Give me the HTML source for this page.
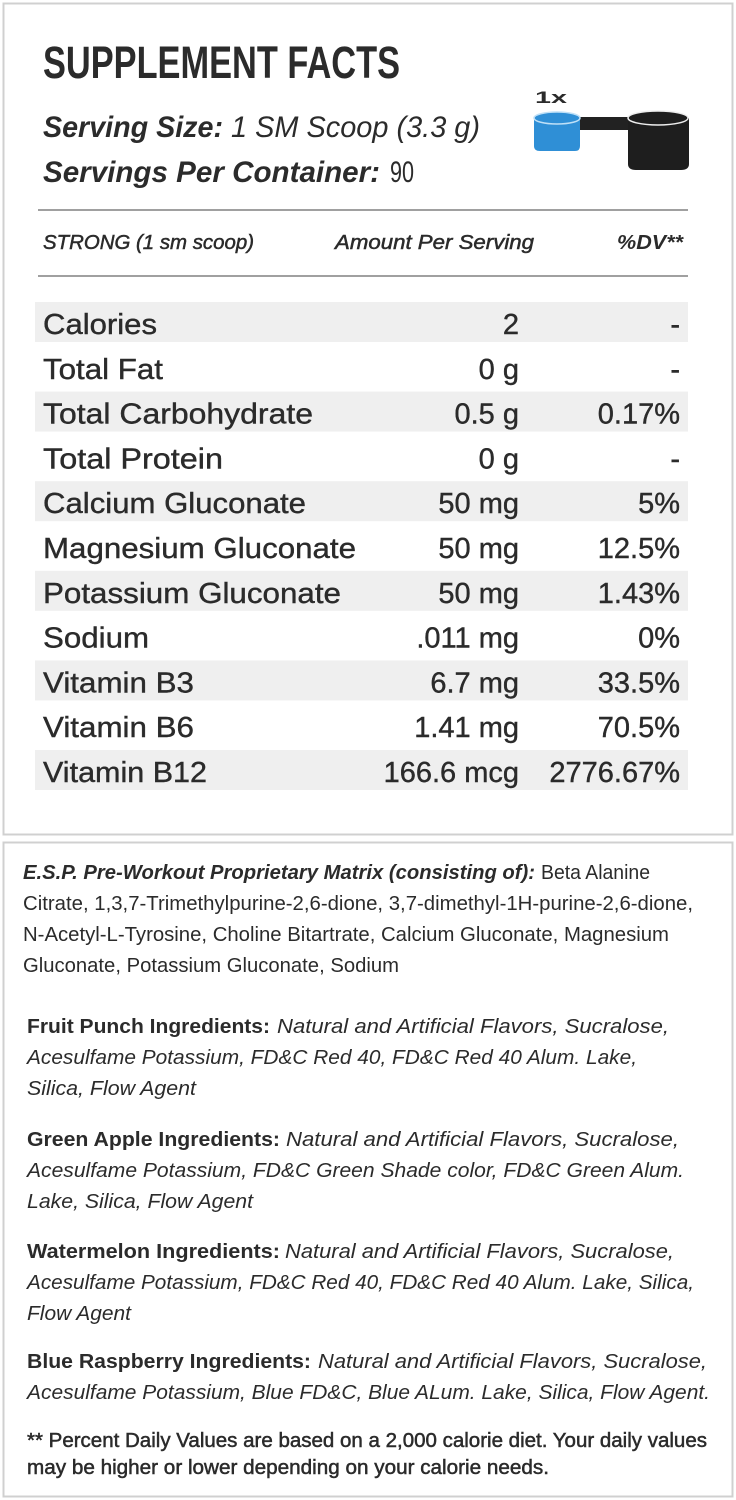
<!DOCTYPE html>
<html><head><meta charset="utf-8"><style>
html,body{margin:0;padding:0;background:#fff;}
svg{display:block;}
text{font-family:"Liberation Sans",sans-serif;fill:#2b2b2b;}
.b{font-weight:bold;}
.i{font-style:italic;}
.r{font-size:29px;stroke:#2b2b2b;stroke-width:0.4;}
.p{font-size:20px;}
.m{stroke:#2b2b2b;stroke-width:0.5;}
</style></head><body>
<svg width="736" height="1500" viewBox="0 0 736 1500" xmlns="http://www.w3.org/2000/svg">
<rect x="3.5" y="3.5" width="729" height="831" fill="#fff" stroke="#d0d0d0" stroke-width="2"/>
<rect x="3.5" y="842.5" width="729" height="654" fill="#fff" stroke="#d0d0d0" stroke-width="2"/>

<text x="43" y="78" class="b" font-size="45" textLength="357" lengthAdjust="spacingAndGlyphs">SUPPLEMENT FACTS</text>
<text x="43" y="137" class="b" font-size="30" textLength="180" lengthAdjust="spacingAndGlyphs" font-style="italic">Serving Size:</text>
<text x="231" y="137" class="i" font-size="30" textLength="249" lengthAdjust="spacingAndGlyphs">1 SM Scoop (3.3 g)</text>
<text x="43" y="182" class="b" font-size="30" textLength="337" lengthAdjust="spacingAndGlyphs" font-style="italic">Servings Per Container:</text>
<text x="390" y="182" font-size="30" textLength="24" lengthAdjust="spacingAndGlyphs">90</text>

<text x="535" y="103" class="b" font-size="17" textLength="32" lengthAdjust="spacingAndGlyphs">1x</text>
<rect x="578" y="117" width="54" height="13" fill="#222"/>
<path d="M534 118 L534 146 Q534 151 540 151 L575 151 Q580 151 580 146 L580 118 Z" fill="#2f8fd6"/>
<ellipse cx="557" cy="118" rx="23" ry="6" fill="#2f8fd6" stroke="#bfe0f7" stroke-width="1.5"/>
<path d="M628 118 L628 164 Q628 170 636 170 L681 170 Q689 170 689 164 L689 118 Z" fill="#1e1e1e"/>
<ellipse cx="658" cy="118" rx="30" ry="7" fill="#1e1e1e" stroke="#eee" stroke-width="1.5"/>

<rect x="38" y="209" width="650" height="2" fill="#a0a0a0"/>
<rect x="38" y="275" width="650" height="2" fill="#a0a0a0"/>
<text x="43" y="249" class="i m" font-size="20" textLength="211" lengthAdjust="spacingAndGlyphs">STRONG (1 sm scoop)</text>
<text x="335" y="249" class="i m" font-size="20" textLength="199" lengthAdjust="spacingAndGlyphs">Amount Per Serving</text>
<text x="617" y="249" class="b i" font-size="20" textLength="66" lengthAdjust="spacingAndGlyphs">%DV**</text>

<g fill="#efefef">
<rect x="35" y="302" width="653" height="40"/>
<rect x="35" y="391.6" width="653" height="40"/>
<rect x="35" y="481.2" width="653" height="40"/>
<rect x="35" y="570.8" width="653" height="40"/>
<rect x="35" y="660.4" width="653" height="40"/>
<rect x="35" y="750" width="653" height="40"/>
</g>
<g>
<text x="43" y="334" class="r" textLength="114" lengthAdjust="spacingAndGlyphs">Calories</text>
<text x="519" y="334" class="r" text-anchor="end">2</text>
<text x="680" y="334" class="r" text-anchor="end">-</text>

<text x="43" y="378.8" class="r" textLength="120" lengthAdjust="spacingAndGlyphs">Total Fat</text>
<text x="519" y="378.8" class="r" text-anchor="end">0 g</text>
<text x="680" y="378.8" class="r" text-anchor="end">-</text>

<text x="43" y="423.6" class="r" textLength="270" lengthAdjust="spacingAndGlyphs">Total Carbohydrate</text>
<text x="519" y="423.6" class="r" text-anchor="end">0.5 g</text>
<text x="680" y="423.6" class="r" text-anchor="end">0.17%</text>

<text x="43" y="468.4" class="r" textLength="180" lengthAdjust="spacingAndGlyphs">Total Protein</text>
<text x="519" y="468.4" class="r" text-anchor="end">0 g</text>
<text x="680" y="468.4" class="r" text-anchor="end">-</text>

<text x="43" y="513.2" class="r" textLength="263" lengthAdjust="spacingAndGlyphs">Calcium Gluconate</text>
<text x="519" y="513.2" class="r" text-anchor="end">50 mg</text>
<text x="680" y="513.2" class="r" text-anchor="end">5%</text>

<text x="43" y="558" class="r" textLength="313" lengthAdjust="spacingAndGlyphs">Magnesium Gluconate</text>
<text x="519" y="558" class="r" text-anchor="end">50 mg</text>
<text x="680" y="558" class="r" text-anchor="end">12.5%</text>

<text x="43" y="602.8" class="r" textLength="298" lengthAdjust="spacingAndGlyphs">Potassium Gluconate</text>
<text x="519" y="602.8" class="r" text-anchor="end">50 mg</text>
<text x="680" y="602.8" class="r" text-anchor="end">1.43%</text>

<text x="43" y="647.6" class="r" textLength="106" lengthAdjust="spacingAndGlyphs">Sodium</text>
<text x="519" y="647.6" class="r" text-anchor="end">.011 mg</text>
<text x="680" y="647.6" class="r" text-anchor="end">0%</text>

<text x="43" y="692.4" class="r" textLength="151" lengthAdjust="spacingAndGlyphs">Vitamin B3</text>
<text x="519" y="692.4" class="r" text-anchor="end">6.7 mg</text>
<text x="680" y="692.4" class="r" text-anchor="end">33.5%</text>

<text x="43" y="737.2" class="r" textLength="151" lengthAdjust="spacingAndGlyphs">Vitamin B6</text>
<text x="519" y="737.2" class="r" text-anchor="end">1.41 mg</text>
<text x="680" y="737.2" class="r" text-anchor="end">70.5%</text>

<text x="43" y="782" class="r" textLength="164" lengthAdjust="spacingAndGlyphs">Vitamin B12</text>
<text x="519" y="782" class="r" text-anchor="end">166.6 mcg</text>
<text x="680" y="782" class="r" text-anchor="end">2776.67%</text>
</g>

<text x="23" y="879" class="p i b" textLength="512" lengthAdjust="spacingAndGlyphs">E.S.P. Pre-Workout Proprietary Matrix (consisting of):</text>
<text x="541" y="879" class="p" textLength="109" lengthAdjust="spacingAndGlyphs">Beta Alanine</text>
<text x="23" y="910" class="p" textLength="670" lengthAdjust="spacingAndGlyphs">Citrate, 1,3,7-Trimethylpurine-2,6-dione, 3,7-dimethyl-1H-purine-2,6-dione,</text>
<text x="23" y="941" class="p" textLength="646" lengthAdjust="spacingAndGlyphs">N-Acetyl-L-Tyrosine, Choline Bitartrate, Calcium Gluconate, Magnesium</text>
<text x="23" y="972" class="p" textLength="376" lengthAdjust="spacingAndGlyphs">Gluconate, Potassium Gluconate, Sodium</text>

<text x="27" y="1033" class="p b" textLength="243" lengthAdjust="spacingAndGlyphs">Fruit Punch Ingredients:</text>
<text x="277" y="1033" class="p i" textLength="392" lengthAdjust="spacingAndGlyphs">Natural and Artificial Flavors, Sucralose,</text>
<text x="27" y="1064" class="p i" textLength="610" lengthAdjust="spacingAndGlyphs">Acesulfame Potassium, FD&amp;C Red 40, FD&amp;C Red 40 Alum. Lake,</text>
<text x="27" y="1095" class="p i" textLength="169" lengthAdjust="spacingAndGlyphs">Silica, Flow Agent</text>

<text x="27" y="1146" class="p b" textLength="253" lengthAdjust="spacingAndGlyphs">Green Apple Ingredients:</text>
<text x="286" y="1146" class="p i" textLength="393" lengthAdjust="spacingAndGlyphs">Natural and Artificial Flavors, Sucralose,</text>
<text x="27" y="1177" class="p i" textLength="657" lengthAdjust="spacingAndGlyphs">Acesulfame Potassium, FD&amp;C Green Shade color, FD&amp;C Green Alum.</text>
<text x="27" y="1208" class="p i" textLength="226" lengthAdjust="spacingAndGlyphs">Lake, Silica, Flow Agent</text>

<text x="27" y="1258" class="p b" textLength="253" lengthAdjust="spacingAndGlyphs">Watermelon Ingredients:</text>
<text x="285" y="1258" class="p i" textLength="389" lengthAdjust="spacingAndGlyphs">Natural and Artificial Flavors, Sucralose,</text>
<text x="27" y="1289" class="p i" textLength="667" lengthAdjust="spacingAndGlyphs">Acesulfame Potassium, FD&amp;C Red 40, FD&amp;C Red 40 Alum. Lake, Silica,</text>
<text x="27" y="1320" class="p i" textLength="104" lengthAdjust="spacingAndGlyphs">Flow Agent</text>

<text x="27" y="1368" class="p b" textLength="284" lengthAdjust="spacingAndGlyphs">Blue Raspberry Ingredients:</text>
<text x="318" y="1368" class="p i" textLength="389" lengthAdjust="spacingAndGlyphs">Natural and Artificial Flavors, Sucralose,</text>
<text x="27" y="1399" class="p i" textLength="683" lengthAdjust="spacingAndGlyphs">Acesulfame Potassium, Blue FD&amp;C, Blue ALum. Lake, Silica, Flow Agent.</text>

<text x="27" y="1447" class="p m" textLength="680" lengthAdjust="spacingAndGlyphs">** Percent Daily Values are based on a 2,000 calorie diet. Your daily values</text>
<text x="27" y="1474" class="p m" textLength="522" lengthAdjust="spacingAndGlyphs">may be higher or lower depending on your calorie needs.</text>
</svg>
</body></html>
